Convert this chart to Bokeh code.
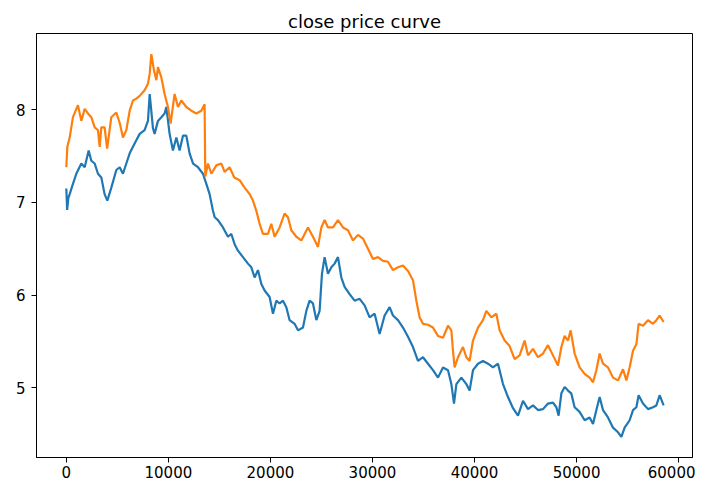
from bokeh.plotting import figure
from bokeh.models import Range1d, FixedTicker, BasicTickFormatter
from bokeh.embed import file_html
from bokeh.resources import INLINE

# ---- data ----
orange_x = [0, 100, 330, 650, 1140, 1470, 1800, 2120, 2450, 2780, 3100, 3270, 3430, 3750, 4000,
            4410, 4900, 5230, 5550, 5880, 6210, 6530, 6860, 7190, 7670, 8000, 8170, 8330, 8600,
            8820, 8980, 9310, 9630, 9960, 10220, 10610, 10940, 11270, 11760, 12250, 12740, 13230,
            13550, 13620, 13880, 14210, 14700, 15190, 15510, 16000, 16460, 16980, 17470,
            17960, 18290, 18620, 18940, 19270, 19760, 20090, 20410, 20900, 21390, 21720, 22050,
            22540, 23030, 23680, 24170, 24660, 24990, 25310, 25640, 26130, 26620, 27110, 27600,
            28090, 28580, 29070, 29560, 30050, 30540, 31030, 31520, 32010, 32500, 32990, 33480,
            33970, 34300, 34620, 34950, 35440, 35930, 36420, 36910, 37400, 37730, 37890, 38050,
            38380, 38870, 39200, 39520, 39850, 40340, 40830, 41160, 41650, 42140, 42460, 42950,
            43440, 43930, 44420, 44910, 45240, 45730, 46220, 46710, 47200, 47690, 48180, 48510,
            48830, 49160, 49420, 49810, 50300, 50790, 51280, 51610, 51940, 52260, 52590, 53080,
            53570, 54060, 54550, 54880, 55200, 55530, 55860, 56080, 56510, 57000, 57490, 57820,
            58140, 58530]
orange_y = [7.38, 7.60, 7.70, 7.92, 8.05, 7.88, 8.01, 7.96, 7.92, 7.81, 7.78, 7.60, 7.81, 7.81, 7.58,
            7.92, 7.97, 7.86, 7.70, 7.78, 7.99, 8.10, 8.12, 8.15, 8.21, 8.28, 8.39, 8.60, 8.42,
            8.32, 8.46, 8.35, 8.17, 8.03, 7.85, 8.17, 8.03, 8.10, 8.03, 7.99, 7.96, 7.99,
            8.06, 7.28, 7.42, 7.31, 7.40, 7.42, 7.33, 7.38, 7.27, 7.24, 7.16,
            7.09, 7.02, 6.91, 6.77, 6.66, 6.66, 6.77, 6.63, 6.73, 6.88, 6.84, 6.70,
            6.63, 6.59, 6.73, 6.63, 6.52, 6.73, 6.81, 6.73, 6.73, 6.81, 6.73, 6.70,
            6.59, 6.65, 6.61, 6.50, 6.39, 6.41, 6.37, 6.36, 6.27, 6.30, 6.32, 6.26,
            6.16, 5.94, 5.76, 5.69, 5.68, 5.65, 5.56, 5.54, 5.67, 5.62, 5.40, 5.22,
            5.33, 5.44, 5.33, 5.29, 5.51, 5.65, 5.73, 5.83, 5.76, 5.80, 5.62, 5.51,
            5.45, 5.31, 5.35, 5.51, 5.35, 5.42, 5.33, 5.37, 5.46, 5.35, 5.24, 5.44,
            5.56, 5.51, 5.62, 5.37, 5.22, 5.15, 5.11, 5.06, 5.19, 5.37, 5.26, 5.22,
            5.11, 5.08, 5.20, 5.08, 5.22, 5.40, 5.47, 5.69, 5.67, 5.73, 5.69, 5.73,
            5.78, 5.71]

blue_x = [0, 80, 200, 330, 650, 980, 1470, 1800, 2190, 2450, 2780, 3100, 3430, 3750, 4020, 4410,
          4900, 5230, 5550, 5880, 6210, 6530, 6860, 7190, 7670, 8000, 8170, 8490, 8650, 8980,
          9310, 9630, 9800, 10120, 10450, 10780, 11100, 11430, 11760, 12080, 12420, 12900, 13390,
          13720, 14040, 14370, 14540, 14860, 15350, 15840, 16170, 16490, 16820, 17310, 17800, 18130,
          18450, 18780, 19110, 19430, 19920, 20250, 20580, 20900, 21230, 21560, 21880, 22370,
          22700, 23190, 23520, 23840, 24170, 24500, 24820, 25050, 25310, 25640, 25970, 26290,
          26620, 26950, 27270, 27760, 28250, 28740, 29230, 29720, 30210, 30700, 31190, 31680,
          32010, 32500, 32990, 33480, 33970, 34460, 34950, 35440, 35930, 36420, 36910, 37400,
          37730, 37990, 38220, 38710, 39200, 39520, 39850, 40340, 40830, 41320, 41810, 42300,
          42790, 43280, 43770, 44260, 44750, 45240, 45730, 46220, 46710, 47200, 47690, 48020,
          48240, 48510, 48830, 49160, 49480, 49810, 50300, 50790, 51280, 51610, 51940, 52260,
          52590, 53080, 53570, 54060, 54390, 54710, 55200, 55530, 55860, 56080, 56510, 57000,
          57490, 57820, 58140, 58530]
blue_y = [7.15, 6.92, 7.05, 7.09, 7.20, 7.31, 7.42, 7.38, 7.56, 7.45, 7.42, 7.31, 7.27, 7.09, 7.02, 7.16,
          7.35, 7.38, 7.31, 7.42, 7.53, 7.60, 7.67, 7.74, 7.78, 7.88, 8.17, 7.80, 7.74, 7.88,
          7.92, 7.96, 8.03, 7.74, 7.56, 7.70, 7.56, 7.72, 7.72, 7.53, 7.42, 7.38, 7.31,
          7.20, 7.09, 6.91, 6.84, 6.81, 6.73, 6.63, 6.66, 6.55, 6.48, 6.41, 6.34, 6.30,
          6.19, 6.27, 6.12, 6.05, 5.98, 5.80, 5.94, 5.91, 5.94, 5.87, 5.73, 5.69,
          5.62, 5.65, 5.83, 5.94, 5.91, 5.73, 5.83, 6.23, 6.41, 6.23, 6.30, 6.34,
          6.41, 6.19, 6.09, 6.01, 5.94, 5.96, 5.89, 5.76, 5.80, 5.58, 5.78, 5.87,
          5.78, 5.73, 5.65, 5.55, 5.44, 5.29, 5.33, 5.26, 5.19, 5.11, 5.22, 5.19,
          5.04, 4.83, 5.04, 5.11, 5.04, 4.97, 5.19, 5.26, 5.29, 5.26, 5.22, 5.26,
          5.04, 4.90, 4.78, 4.70, 4.86, 4.77, 4.81, 4.76, 4.77, 4.83, 4.84, 4.79,
          4.70, 4.94, 5.01, 4.97, 4.94, 4.79, 4.74, 4.65, 4.68, 4.61, 4.76, 4.90,
          4.76, 4.68, 4.57, 4.52, 4.47, 4.57, 4.65, 4.76, 4.79, 4.92, 4.83, 4.77,
          4.79, 4.81, 4.92, 4.81]

x_ticks = [0, 10000, 20000, 30000, 40000, 50000, 60000]
y_ticks = [5, 6, 7, 8]
title_text = "close price curve"

FONT = "DejaVu Sans"

p = figure(width=695, height=480, output_backend="svg", toolbar_location=None,
           x_range=Range1d(-2922, 61360), y_range=Range1d(4.248, 8.823),
           min_border_left=36, min_border_right=3, min_border_top=33, min_border_bottom=23,
           title=title_text)

p.title.align = "center"
p.title.text_font = FONT
p.title.text_font_size = "18px"
p.title.text_font_style = "normal"
p.title.text_color = "black"
p.title.standoff = 4

p.line(blue_x, blue_y, line_color="#1f77b4", line_width=2.2)
p.line(orange_x, orange_y, line_color="#ff7f0e", line_width=2.2)

p.xgrid.grid_line_color = None
p.ygrid.grid_line_color = None
p.outline_line_color = "black"
p.outline_line_width = 1
p.background_fill_color = "white"
p.border_fill_color = "white"

p.xaxis.ticker = FixedTicker(ticks=x_ticks)
p.yaxis.ticker = FixedTicker(ticks=y_ticks)
p.xaxis.formatter = BasicTickFormatter(use_scientific=False)
for ax in (p.xaxis, p.yaxis):
    ax.axis_line_color = "black"
    ax.major_tick_line_color = "black"
    ax.major_tick_out = 5
    ax.major_tick_in = 0
    ax.minor_tick_line_color = None
    ax.major_label_text_font = FONT
    ax.major_label_text_font_size = "15px"
    ax.major_label_text_color = "black"
p.xaxis.major_label_standoff = 3
p.yaxis.major_label_standoff = 6

open("out.html", "w").write(file_html(p, INLINE))
